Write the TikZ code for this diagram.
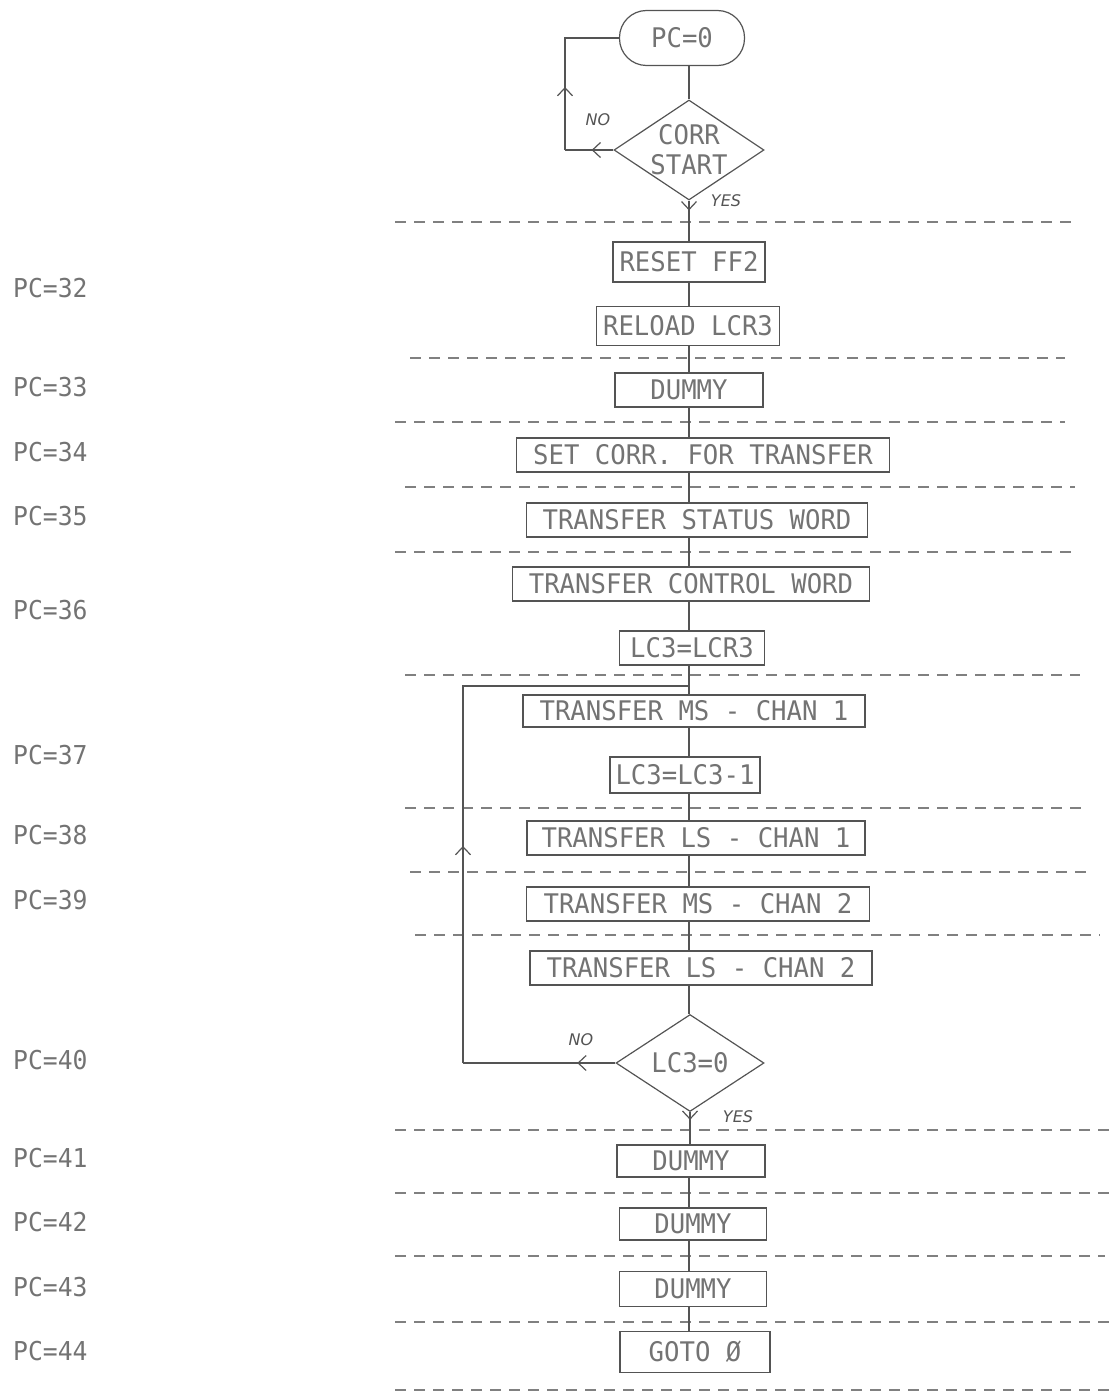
\documentclass[tikz,border=0pt]{standalone}
\usepackage{fontspec}
\usetikzlibrary{shapes.geometric,arrows.meta,decorations.markings}
\newfontfamily\boxfont[FakeStretch=0.95]{DejaVu Sans Mono}
\newfontfamily\handfont{DejaVu Sans}
\definecolor{ink}{gray}{0.33}
\definecolor{txt}{gray}{0.45}
\definecolor{sepcol}{gray}{0.5}
\tikzset{
  box/.style={draw=ink, line width=1.2pt, rectangle, inner sep=0pt, minimum height=34pt,
    text=txt, font=\boxfont\fontsize{27}{30}\selectfont},
  term/.style={box, rounded corners=27pt, minimum height=55pt, minimum width=125pt},
  dia/.style={draw=ink, line width=1.2pt, diamond, inner sep=-22pt, minimum width=150pt,
    minimum height=100pt, text=txt, align=center, font=\boxfont\fontsize{27}{30}\selectfont},
  conn/.style={draw=ink, line width=1.2pt},
  arr/.style={postaction={decorate}, decoration={markings,
    mark=at position #1 with {\arrow{Straight Barb[length=8pt,width=15pt,line width=1.2pt]}}}},
  sepline/.style={draw=sepcol, line width=1.1pt, dash pattern=on 11pt off 8pt},
  pc/.style={text=txt, anchor=west, font=\boxfont\fontsize{26}{28}\selectfont, inner sep=0pt},
  lab/.style={text=ink, font=\handfont\itshape\fontsize{16}{18}\selectfont, inner sep=0pt}
}
\begin{document}
\begin{tikzpicture}[x=1pt,y=-1pt]
\useasboundingbox (0,0) rectangle (1118,1394);
% separators
\foreach \yy/\xa/\xb in {222/395/1075, 358/410/1065, 422/395/1065, 487/405/1075,
  552/395/1075, 675/405/1080, 808/405/1085, 872/410/1090, 935/415/1100,
  1130/395/1115, 1193/395/1110, 1256/395/1105, 1322/395/1110, 1390/395/1110}
  \draw[sepline] (\xa,\yy) -- (\xb,\yy);
% nodes
\coordinate (sp) at (689,0);
\node[term] (start) at (682,38) {PC=0};
\node[dia] (d1) at (689,150) {CORR\\START};
\node[box, minimum width=152pt, minimum height=40pt] (b1) at (689,262) {RESET FF2};
\node[box, minimum width=183pt, minimum height=39pt] (b2) at (688,326) {RELOAD LCR3};
\node[box, minimum width=148pt] (b3) at (689,390) {DUMMY};
\node[box, minimum width=373pt] (b4) at (703,455) {SET CORR. FOR TRANSFER};
\node[box, minimum width=341pt] (b5) at (697,520) {TRANSFER STATUS WORD};
\node[box, minimum width=357pt] (b6) at (691,584) {TRANSFER CONTROL WORD};
\node[box, minimum width=145pt] (b7) at (692,648) {LC3=LCR3};
\node[box, minimum width=342pt, minimum height=32pt] (b8) at (694,711) {TRANSFER MS - CHAN 1};
\node[box, minimum width=150pt, minimum height=36pt] (b9) at (685,775) {LC3=LC3-1};
\node[box, minimum width=338pt] (b10) at (696,838) {TRANSFER LS - CHAN 1};
\node[box, minimum width=343pt] (b11) at (698,904) {TRANSFER MS - CHAN 2};
\node[box, minimum width=342pt] (b12) at (701,968) {TRANSFER LS - CHAN 2};
\node[dia, minimum width=148pt, minimum height=97pt] (d2) at (690,1063) {LC3=0};
\node[box, minimum width=148pt, minimum height=32pt] (b13) at (691,1161) {DUMMY};
\node[box, minimum width=147pt, minimum height=32pt] (b14) at (693,1224) {DUMMY};
\node[box, minimum width=147pt, minimum height=35pt] (b15) at (693,1289) {DUMMY};
\node[box, minimum width=150pt, minimum height=41pt] (b16) at (695,1352) {GOTO Ø};
% main spine
\foreach \a/\b in {start/d1, b1/b2, b2/b3, b3/b4, b4/b5, b5/b6, b6/b7, b7/b8, b8/b9,
  b9/b10, b10/b11, b11/b12, b12/d2, b13/b14, b14/b15, b15/b16}
  \draw[conn] (\a.south -| sp) -- (\b.north -| sp);
\draw[conn, arr=0.24] (d1.south) -- (b1.north -| d1.south);
\draw[conn, arr=0.24] (d2.south) -- (b13.north -| d2.south);
% first loop
\coordinate (l1) at (565,0);
\draw[conn, arr=0.45] (d1.west) -- (d1.west -| l1);
\draw[conn, arr=0.38] (d1.west -| l1) -- (start.west -| l1) -- (start.west);
% second loop
\coordinate (l2) at (463,686);
\draw[conn, arr=0.25] (d2.west) -- (d2.west -| l2);
\draw[conn, arr=0.36] (d2.west -| l2) -- (l2) -- (l2 -| sp);
% labels
\node[lab] (no1) at (598,120) {NO};
\node[lab] (yes1) at (726,201) {YES};
\node[lab] (no2) at (581,1040) {NO};
\node[lab] (yes2) at (738,1117) {YES};
% PC labels
\foreach \nm/\yy in {32/288, 33/387, 34/452, 35/516, 36/610, 37/755, 38/835, 39/900,
  40/1060, 41/1158, 42/1222, 43/1287, 44/1351}
  \node[pc] (pc\nm) at (13,\yy) {PC=\nm};
\end{tikzpicture}
\end{document}
